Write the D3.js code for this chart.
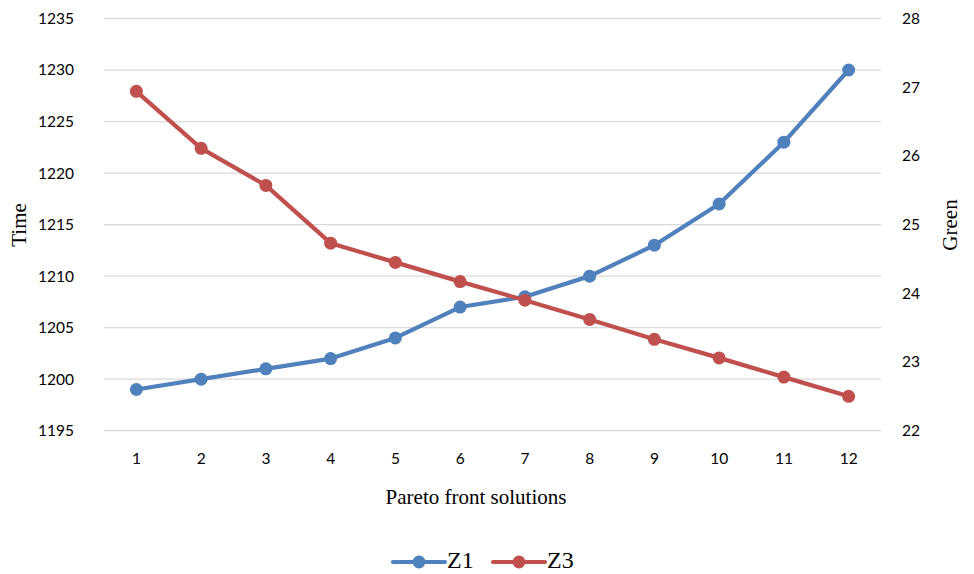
<!DOCTYPE html>
<html><head><meta charset="utf-8">
<script src="https://cdn.jsdelivr.net/npm/d3@7"></script>
<style>body{margin:0;background:#fff}svg{display:block}</style>
</head><body>
<svg id="c" width="974" height="574"></svg>
<script>
const categories = [1,2,3,4,5,6,7,8,9,10,11,12];
const z1 = [1199,1200,1201,1202,1204,1207,1208,1210,1213,1217,1223,1230];
const z3 = [26.94,26.11,25.57,24.73,24.45,24.17,23.90,23.62,23.33,23.06,22.78,22.50];
const leftTicks = [1195,1200,1205,1210,1215,1220,1225,1230,1235];
const rightTicks = [22,23,24,25,26,27,28];
const seriesNames = ["Z1","Z3"];
const colors = ["#4f81bd","#c0504d"];

const svg = d3.select("#c");
const L=104, R=881, T=18.5, B=430.7;
const x = d3.scaleBand().domain(categories).range([L,R]);
const yL = d3.scaleLinear().domain([1195,1235]).range([B,T]);
const yR = d3.scaleLinear().domain([22,28]).range([B,T]);
const tickFont = "Lato, 'Open Sans', sans-serif";
const serif = "'Liberation Serif', 'DejaVu Serif', serif";

// gridlines
svg.append("g").selectAll("line").data(leftTicks).join("line")
  .attr("x1",L).attr("x2",R).attr("y1",d=>yL(d)).attr("y2",d=>yL(d))
  .attr("stroke","#d9d9d9").attr("stroke-width",1.3);

// left axis labels
const axL = svg.append("g").attr("transform",`translate(${L},0)`)
  .call(d3.axisLeft(yL).tickValues(leftTicks).tickFormat(d3.format("d")).tickSize(0).tickPadding(30));
axL.select(".domain").remove();
axL.selectAll("text").attr("font-family",tickFont).attr("font-size",15.5).attr("fill","#000");

// right axis labels
const axR = svg.append("g").attr("transform",`translate(${R},0)`)
  .call(d3.axisRight(yR).tickValues(rightTicks).tickFormat(d3.format("d")).tickSize(0).tickPadding(21));
axR.select(".domain").remove();
axR.selectAll("text").attr("font-family",tickFont).attr("font-size",15.5).attr("fill","#000");

// bottom axis labels
const axB = svg.append("g").attr("transform",`translate(0,${B})`)
  .call(d3.axisBottom(x).tickSize(0).tickPadding(22));
axB.select(".domain").remove();
axB.selectAll("text").attr("font-family",tickFont).attr("font-size",15.5).attr("fill","#000");

// titles
svg.append("text").attr("transform","translate(26,225) rotate(-90)").attr("text-anchor","middle")
  .attr("font-family",serif).attr("font-size",21).text("Time");
svg.append("text").attr("transform","translate(957,225) rotate(-90)").attr("text-anchor","middle")
  .attr("font-family",serif).attr("font-size",21).text("Green");
svg.append("text").attr("x",476).attr("y",504).attr("text-anchor","middle")
  .attr("font-family",serif).attr("font-size",21).text("Pareto front solutions");

// series
const cx = d=>x(d)+x.bandwidth()/2;
const data = [z1.map((v,i)=>[categories[i],v]), z3.map((v,i)=>[categories[i],v])];
const scales=[yL,yR];
data.forEach((s,k)=>{
  const line = d3.line().x(d=>cx(d[0])).y(d=>scales[k](d[1]));
  svg.append("path").datum(s).attr("d",line).attr("fill","none")
    .attr("stroke",colors[k]).attr("stroke-width",4.2).attr("stroke-linejoin","round").attr("stroke-linecap","round");
  svg.append("g").selectAll("circle").data(s).join("circle")
    .attr("cx",d=>cx(d[0])).attr("cy",d=>scales[k](d[1])).attr("r",6.5).attr("fill",colors[k]);
});

// legend
const lg = svg.append("g");
const lx=[393,493];
seriesNames.forEach((n,k)=>{
  lg.append("line").attr("x1",lx[k]).attr("x2",lx[k]+52).attr("y1",562).attr("y2",562)
    .attr("stroke",colors[k]).attr("stroke-width",4.2).attr("stroke-linecap","round");
  lg.append("circle").attr("cx",lx[k]+26).attr("cy",562).attr("r",6.5).attr("fill",colors[k]);
  lg.append("text").attr("x",lx[k]+54).attr("y",568).attr("font-family",serif).attr("font-size",24).text(n);
});
</script>
</body></html>
